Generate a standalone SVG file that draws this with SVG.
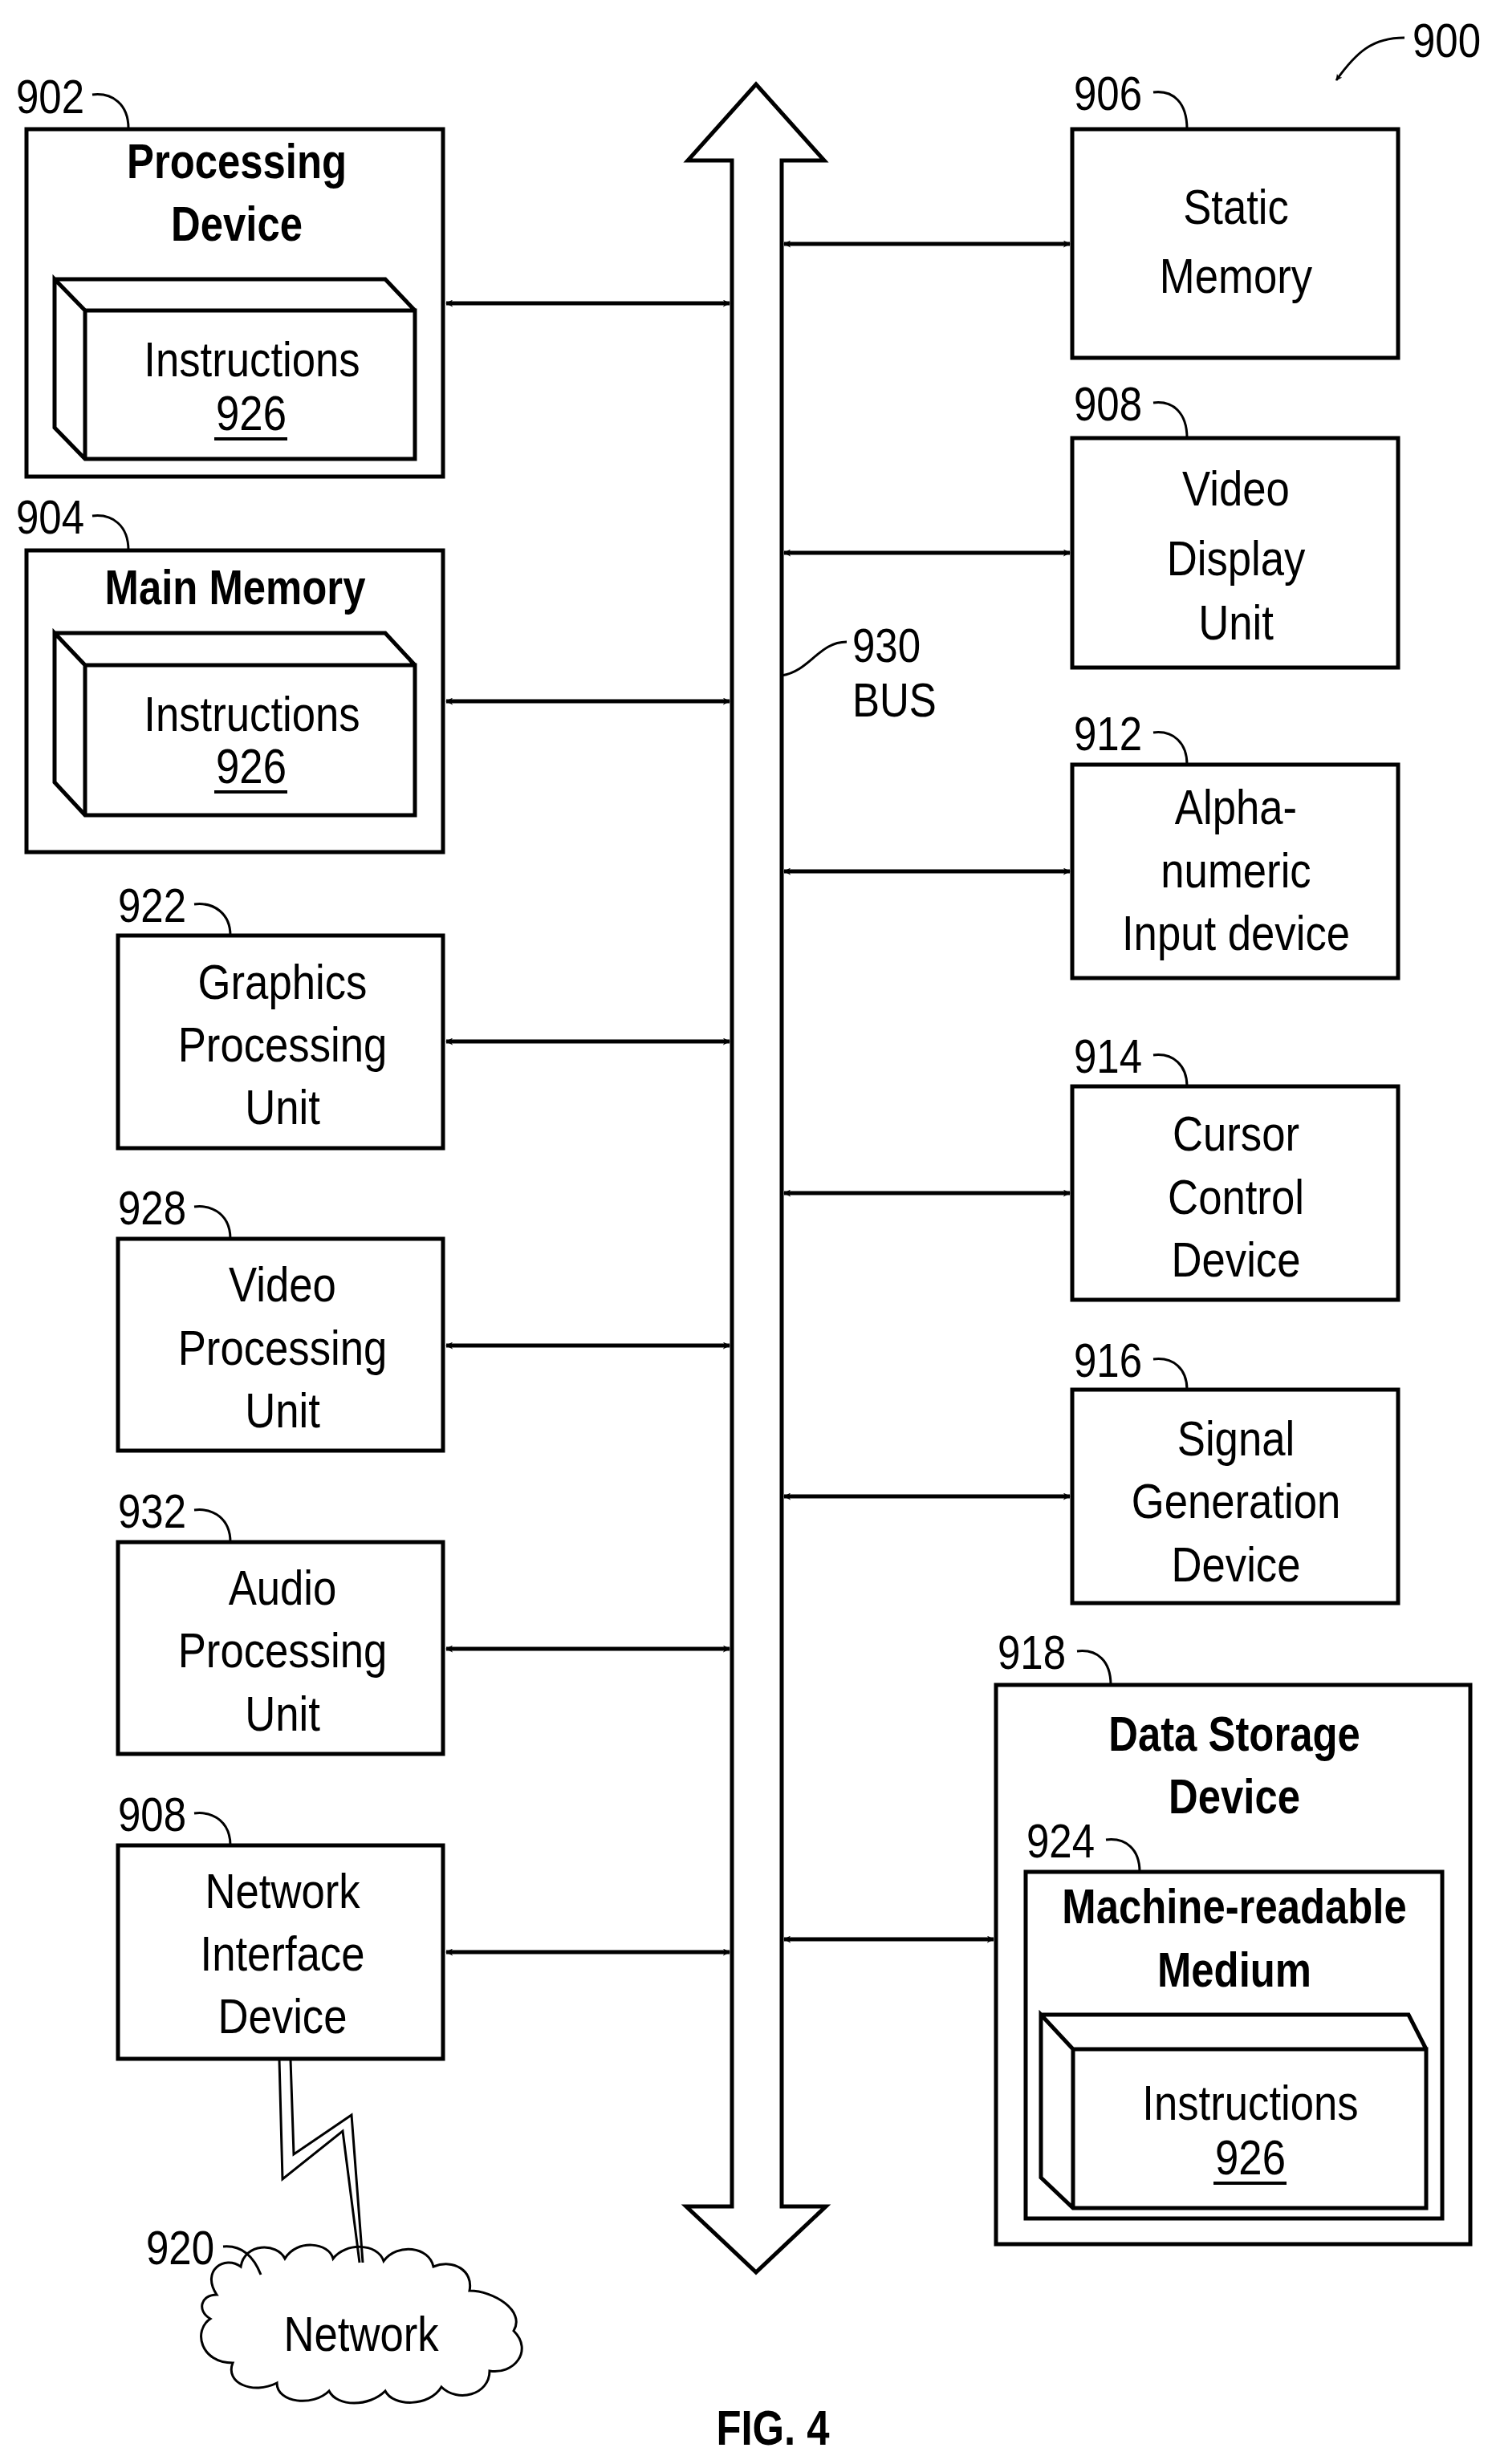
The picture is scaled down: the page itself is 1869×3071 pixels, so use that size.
<svg xmlns="http://www.w3.org/2000/svg" width="1869" height="3071" viewBox="0 0 1869 3071">
<style>
.b{fill:none;stroke:#000;stroke-width:5}
.t{font-family:"Liberation Sans",Arial,sans-serif;font-size:62px;text-anchor:middle;fill:#000}
.h{font-family:"Liberation Sans",Arial,sans-serif;font-size:62px;font-weight:bold;text-anchor:middle;fill:#000}
.n{font-family:"Liberation Sans",Arial,sans-serif;font-size:60px;fill:#000}
.c{stroke:#000;stroke-width:5;fill:none;marker-start:url(#a);marker-end:url(#a)}
.l{fill:none;stroke:#000;stroke-width:3}
</style>
<defs>
<marker id="a" viewBox="0 0 10 10" refX="9" refY="5" markerWidth="9" markerHeight="9" markerUnits="userSpaceOnUse" orient="auto-start-reverse"><path d="M0,0 L10,5 L0,10 L3,5 z" fill="#000"/></marker>
<marker id="a2" viewBox="0 0 10 10" refX="9" refY="5" markerWidth="8" markerHeight="8" markerUnits="userSpaceOnUse" orient="auto"><path d="M0,0 L10,5 L0,10 L3,5 z" fill="#000"/></marker>
</defs>
<rect width="1869" height="3071" fill="#fff"/>

<g id="bus">
<path class="b" d="M912,2750 L912,200 L857,200 L942,105 L1027,200 L974,200 L974,2750 L1029,2750 L942,2832 L855,2750 Z" fill="#fff"/>
<path class="l" d="M974,842 C1010,836 1020,800 1055,800"/>
<text class="n" transform="translate(1062,825) scale(0.85,1)">930</text>
<text class="n" transform="translate(1062,893) scale(0.85,1)">BUS</text>
</g>

<g id="ref900">
<text class="n" transform="translate(1760,71) scale(0.85,1)">900</text>
<path class="l" d="M1750,47 C1710,47 1690,65 1665,100" marker-end="url(#a2)"/>
</g>

<g id="n902">
<rect class="b" x="33" y="161" width="519" height="433"/>
<text class="h" transform="translate(295,222) scale(0.82,1)">Processing</text>
<text class="h" transform="translate(295,300) scale(0.82,1)">Device</text>
<path class="b" d="M68,348 L480,348 L517,387 M68,348 L106,387 L517,387 L517,572 L106,572 L68,533 Z M106,387 L106,572"/>
<text class="t" transform="translate(314,469) scale(0.85,1)">Instructions</text>
<text class="t" transform="translate(313,536) scale(0.85,1)">926</text>
<line x1="267" y1="547" x2="358" y2="547" stroke="#000" stroke-width="4"/>
<text class="n" transform="translate(20,141) scale(0.85,1)">902</text>
<path class="l" d="M115,118 C140,115 160,130 160,160"/>
</g>

<g id="n904">
<rect class="b" x="33" y="686" width="519" height="376"/>
<text class="h" transform="translate(293,753) scale(0.82,1)">Main Memory</text>
<path class="b" d="M68,789 L480,789 L517,829 M68,789 L106,829 L517,829 L517,1016 L106,1016 L68,975 Z M106,829 L106,1016"/>
<text class="t" transform="translate(314,911) scale(0.85,1)">Instructions</text>
<text class="t" transform="translate(313,976) scale(0.85,1)">926</text>
<line x1="267" y1="987" x2="358" y2="987" stroke="#000" stroke-width="4"/>
<text class="n" transform="translate(20,665) scale(0.85,1)">904</text>
<path class="l" d="M115,643 C140,640 160,655 160,686"/>
</g>

<g id="n922">
<rect class="b" x="147" y="1166" width="405" height="265"/>
<text class="t" transform="translate(352,1245) scale(0.85,1)">Graphics</text>
<text class="t" transform="translate(352,1323) scale(0.85,1)">Processing</text>
<text class="t" transform="translate(352,1401) scale(0.85,1)">Unit</text>
<text class="n" transform="translate(147,1149) scale(0.85,1)">922</text>
<path class="l" d="M242,1127 C267,1124 287,1139 287,1166"/>
</g>
<g id="n928">
<rect class="b" x="147" y="1544" width="405" height="264"/>
<text class="t" transform="translate(352,1622) scale(0.85,1)">Video</text>
<text class="t" transform="translate(352,1701) scale(0.85,1)">Processing</text>
<text class="t" transform="translate(352,1779) scale(0.85,1)">Unit</text>
<text class="n" transform="translate(147,1526) scale(0.85,1)">928</text>
<path class="l" d="M242,1504 C267,1501 287,1516 287,1544"/>
</g>
<g id="n932">
<rect class="b" x="147" y="1922" width="405" height="264"/>
<text class="t" transform="translate(352,2000) scale(0.85,1)">Audio</text>
<text class="t" transform="translate(352,2078) scale(0.85,1)">Processing</text>
<text class="t" transform="translate(352,2157) scale(0.85,1)">Unit</text>
<text class="n" transform="translate(147,1904) scale(0.85,1)">932</text>
<path class="l" d="M242,1882 C267,1879 287,1894 287,1922"/>
</g>
<g id="n908b">
<rect class="b" x="147" y="2300" width="405" height="266"/>
<text class="t" transform="translate(352,2378) scale(0.85,1)">Network</text>
<text class="t" transform="translate(352,2456) scale(0.85,1)">Interface</text>
<text class="t" transform="translate(352,2534) scale(0.85,1)">Device</text>
<text class="n" transform="translate(147,2282) scale(0.85,1)">908</text>
<path class="l" d="M242,2260 C267,2257 287,2272 287,2300"/>
</g>

<g id="n920">
<path class="l" d="M270,2860 C250,2830 280,2810 300,2825 C305,2795 345,2795 355,2815 C370,2790 410,2795 415,2815 C430,2795 470,2795 478,2818 C495,2795 535,2800 540,2825 C565,2815 590,2830 585,2855 C615,2855 655,2880 640,2905 C665,2930 640,2960 610,2955 C610,2985 570,2995 550,2975 C535,3000 490,3000 480,2980 C460,3000 420,3000 410,2980 C390,3000 345,2995 345,2970 C315,2985 280,2970 290,2945 C250,2945 240,2905 262,2890 C245,2880 250,2860 270,2860 Z"/>
<text class="t" transform="translate(450,2930) scale(0.85,1)">Network</text>
<text class="n" transform="translate(182,2822) scale(0.85,1)">920</text>
<path class="l" d="M278,2800 C300,2798 315,2810 325,2835"/>
</g>

<g id="n906">
<rect class="b" x="1336" y="161" width="406" height="285"/>
<text class="t" transform="translate(1540,279) scale(0.85,1)">Static</text>
<text class="t" transform="translate(1540,365) scale(0.85,1)">Memory</text>
<text class="n" transform="translate(1338,137) scale(0.85,1)">906</text>
<path class="l" d="M1437,115 C1462,112 1479,128 1479,161"/>
</g>
<g id="n908">
<rect class="b" x="1336" y="546" width="406" height="286"/>
<text class="t" transform="translate(1540,630) scale(0.85,1)">Video</text>
<text class="t" transform="translate(1540,717) scale(0.85,1)">Display</text>
<text class="t" transform="translate(1540,797) scale(0.85,1)">Unit</text>
<text class="n" transform="translate(1338,524) scale(0.85,1)">908</text>
<path class="l" d="M1437,502 C1462,499 1479,515 1479,546"/>
</g>
<g id="n912">
<rect class="b" x="1336" y="953" width="406" height="266"/>
<text class="t" transform="translate(1540,1027) scale(0.85,1)">Alpha-</text>
<text class="t" transform="translate(1540,1106) scale(0.85,1)">numeric</text>
<text class="t" transform="translate(1540,1184) scale(0.85,1)">Input device</text>
<text class="n" transform="translate(1338,935) scale(0.85,1)">912</text>
<path class="l" d="M1437,913 C1462,910 1479,926 1479,953"/>
</g>
<g id="n914">
<rect class="b" x="1336" y="1354" width="406" height="266"/>
<text class="t" transform="translate(1540,1434) scale(0.85,1)">Cursor</text>
<text class="t" transform="translate(1540,1513) scale(0.85,1)">Control</text>
<text class="t" transform="translate(1540,1591) scale(0.85,1)">Device</text>
<text class="n" transform="translate(1338,1337) scale(0.85,1)">914</text>
<path class="l" d="M1437,1315 C1462,1312 1479,1328 1479,1354"/>
</g>
<g id="n916">
<rect class="b" x="1336" y="1732" width="406" height="266"/>
<text class="t" transform="translate(1540,1814) scale(0.85,1)">Signal</text>
<text class="t" transform="translate(1540,1892) scale(0.85,1)">Generation</text>
<text class="t" transform="translate(1540,1971) scale(0.85,1)">Device</text>
<text class="n" transform="translate(1338,1716) scale(0.85,1)">916</text>
<path class="l" d="M1437,1694 C1462,1691 1479,1706 1479,1732"/>
</g>
<g id="n918">
<rect class="b" x="1241" y="2100" width="591" height="697"/>
<text class="h" transform="translate(1538,2182) scale(0.82,1)">Data Storage</text>
<text class="h" transform="translate(1538,2260) scale(0.82,1)">Device</text>
<text class="n" transform="translate(1243,2080) scale(0.85,1)">918</text>
<path class="l" d="M1342,2058 C1367,2055 1384,2070 1384,2100"/>
</g>
<g id="n924">
<rect class="b" x="1278" y="2333" width="519" height="432"/>
<text class="h" transform="translate(1538,2397) scale(0.82,1)">Machine-readable</text>
<text class="h" transform="translate(1538,2476) scale(0.82,1)">Medium</text>
<text class="n" transform="translate(1279,2315) scale(0.85,1)">924</text>
<path class="l" d="M1378,2293 C1403,2290 1420,2305 1420,2333"/>
<path class="b" d="M1297,2511 L1755,2511 L1777,2554 M1297,2511 L1337,2554 L1777,2554 L1777,2752 L1337,2752 L1297,2714 Z M1337,2554 L1337,2752"/>
<text class="t" transform="translate(1558,2642) scale(0.85,1)">Instructions</text>
<text class="t" transform="translate(1558,2710) scale(0.85,1)">926</text>
<line x1="1512" y1="2721" x2="1603" y2="2721" stroke="#000" stroke-width="4"/>
</g>

<g id="connectors">
<line class="c" x1="556" y1="378" x2="909" y2="378"/>
<line class="c" x1="556" y1="874" x2="909" y2="874"/>
<line class="c" x1="556" y1="1298" x2="909" y2="1298"/>
<line class="c" x1="556" y1="1677" x2="909" y2="1677"/>
<line class="c" x1="556" y1="2055" x2="909" y2="2055"/>
<line class="c" x1="556" y1="2433" x2="909" y2="2433"/>
<line class="c" x1="977" y1="304" x2="1333" y2="304"/>
<line class="c" x1="977" y1="689" x2="1333" y2="689"/>
<line class="c" x1="977" y1="1086" x2="1333" y2="1086"/>
<line class="c" x1="977" y1="1487" x2="1333" y2="1487"/>
<line class="c" x1="977" y1="1865" x2="1333" y2="1865"/>
<line class="c" x1="977" y1="2417" x2="1238" y2="2417"/>
<path class="l" d="M348,2567 L352,2716 L427,2656 L448,2820 M362,2567 L366,2685 L438,2636 L452,2820"/>
</g>

<text class="h" transform="translate(963,3047) scale(0.82,1)">FIG. 4</text>
</svg>
